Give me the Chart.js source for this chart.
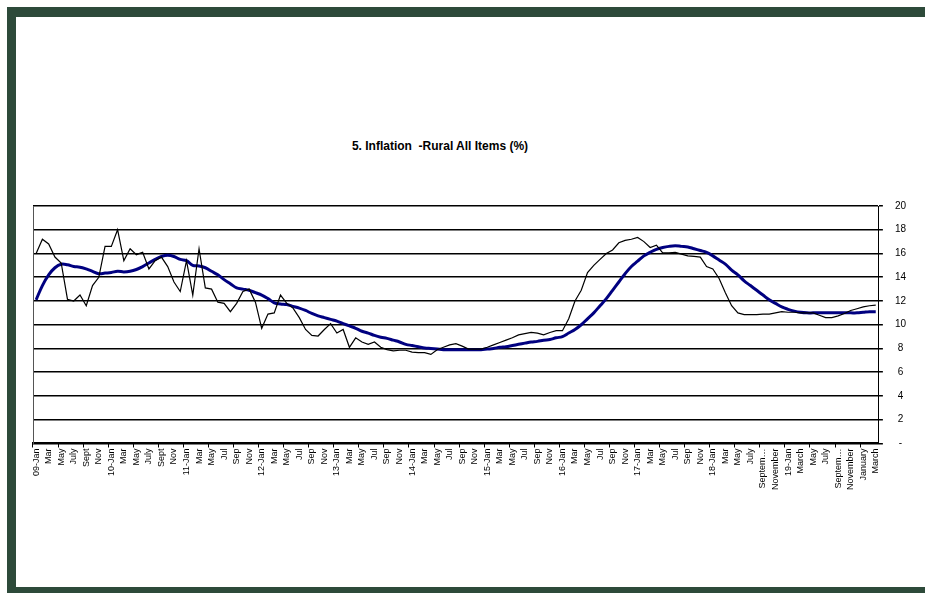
<!DOCTYPE html>
<html>
<head>
<meta charset="utf-8">
<script src="https://cdn.jsdelivr.net/npm/chart.js@4.4.0/dist/chart.umd.min.js"></script>
<style>
    body { margin: 0; background: #fff; width: 925px; height: 593px; overflow: hidden; position: relative; }
    #frame {
        position: absolute; left: 7px; top: 7px; width: 1000px; height: 570px;
        border-top: 10px solid #2d4a3a; border-left: 9px solid #2d4a3a; border-bottom: 10px solid #2d4a3a;
    }
    #titulo {
        position: absolute; left: 240px; width: 400px; top: 139px; text-align: center;
        font: bold 12px "Liberation Sans", Arial, sans-serif; color: #000; white-space: pre;
    }
    #wrap { position: absolute; left: 20px; top: 188px; width: 900px; height: 303px; }
</style>
</head>
<body>
<div id="frame"></div>
<div id="titulo">5. Inflation  -Rural All Items (%)</div>
<div id="wrap"><canvas id="lineChartInflacao"></canvas></div>
<script>
// Rótulos visíveis (um a cada dois meses, jan/2009 a mar/2020)
const tickLabels = [
    '09-Jan', 'Mar', 'May', 'July', 'Sept', 'Nov',
    '10-Jan', 'Mar', 'May', 'July', 'Sept', 'Nov',
    '11-Jan', 'Mar', 'May', 'Jul', 'Sep', 'Nov',
    '12-Jan', 'Mar', 'May', 'Jul', 'Sep', 'Nov',
    '13-Jan', 'Mar', 'May', 'Jul', 'Sep', 'Nov',
    '14-Jan', 'Mar', 'May', 'Jul', 'Sep', 'Nov',
    '15-Jan', 'Mar', 'May', 'Jul', 'Sep', 'Nov',
    '16-Jan', 'Mar', 'May', 'Jul', 'Sep', 'Nov',
    '17-Jan', 'Mar', 'May', 'Jul', 'Sep', 'Nov',
    '18-Jan', 'Mar', 'May', 'July', 'Septem…', 'November',
    '19-Jan', 'March', 'May', 'July', 'Septem…', 'November',
    'January', 'March'
];

// Inflação rural mensal (%)
const inflacaoRural = [
    16.0, 17.2, 16.8, 15.7, 15.2, 12.15, 12.0, 12.5, 11.6, 13.3, 14.0, 16.6,
    16.6, 18.0, 15.4, 16.4, 15.9, 16.1, 14.7, 15.4, 15.7, 14.9, 13.6, 12.8,
    15.4, 12.5, 16.4, 13.1, 13.0, 11.9, 11.8, 11.1, 11.8, 12.8, 13.0, 11.9,
    9.7, 10.9, 11.0, 12.5, 11.8, 11.4, 10.6, 9.6, 9.1, 9.05, 9.6, 10.1,
    9.3, 9.6, 8.1, 8.9, 8.55, 8.35, 8.55, 8.1, 7.9, 7.8, 7.85, 7.85,
    7.7, 7.65, 7.65, 7.5, 7.9, 8.1, 8.3, 8.4, 8.2, 7.95, 7.95, 7.95,
    8.1, 8.3, 8.5, 8.7, 8.9, 9.15, 9.25, 9.35, 9.3, 9.15, 9.35, 9.5,
    9.5, 10.5, 12.0, 12.9, 14.4, 15.0, 15.5, 16.0, 16.3, 16.9, 17.1, 17.2,
    17.35, 17.0, 16.5, 16.7, 16.05, 16.05, 16.1, 15.95, 15.8, 15.75, 15.7, 14.9,
    14.7, 13.9, 12.7, 11.6, 11.0, 10.85, 10.85, 10.85, 10.9, 10.9, 11.0, 11.1,
    11.05, 11.05, 11.0, 11.0, 11.0, 10.8, 10.6, 10.6, 10.75, 10.95, 11.2, 11.35,
    11.5, 11.6, 11.65
];

// Tendência (linha azul)
const tendencia = [
    12.1, 13.3, 14.2, 14.8, 15.1, 15.05, 14.9, 14.85, 14.7, 14.5, 14.3, 14.35,
    14.4, 14.5, 14.45, 14.5, 14.65, 14.9, 15.2, 15.5, 15.75, 15.85, 15.75, 15.5,
    15.4, 15.0, 14.95, 14.8, 14.5, 14.2, 13.8, 13.45, 13.1, 13.0, 12.9, 12.7,
    12.5, 12.2, 11.85, 11.75, 11.7, 11.55, 11.4, 11.2, 10.95, 10.75, 10.6, 10.45,
    10.3, 10.1, 9.9, 9.7, 9.45, 9.3, 9.1, 8.95, 8.85, 8.7, 8.55, 8.35,
    8.25, 8.15, 8.05, 8.0, 7.95, 7.9, 7.9, 7.9, 7.9, 7.9, 7.9, 7.9,
    7.95, 8.0, 8.1, 8.15, 8.25, 8.35, 8.45, 8.55, 8.6, 8.7, 8.75, 8.9,
    9.0, 9.3, 9.6, 10.0, 10.5, 11.0, 11.6, 12.2, 12.9, 13.6, 14.3, 14.9,
    15.35, 15.8, 16.1, 16.35, 16.5, 16.6, 16.65, 16.6, 16.55, 16.4, 16.25, 16.1,
    15.8, 15.45, 15.1, 14.6, 14.2, 13.7, 13.3, 12.9, 12.5, 12.1, 11.8, 11.5,
    11.3, 11.15, 11.05, 11.0, 11.0, 11.0, 11.0, 11.0, 11.0, 11.0, 11.0, 11.0,
    11.05, 11.1, 11.1
];

// Eixo Y (0 aparece como "-")
const yTicks = [0, 2, 4, 6, 8, 10, 12, 14, 16, 18, 20];

const meses = inflacaoRural.map((v, i) => (i % 2 === 0 ? tickLabels[i / 2] : ''));
const fonte = '"Liberation Sans", Arial, sans-serif';

new Chart(document.getElementById('lineChartInflacao'), {
    type: 'line',
    data: {
        labels: meses,
        datasets: [{
            label: 'Rural All Items',
            data: inflacaoRural,
            borderColor: '#000000',
            borderWidth: 1.2,
            pointRadius: 0,
            tension: 0
        }, {
            label: 'Trend',
            data: tendencia,
            borderColor: '#000080',
            borderWidth: 3,
            pointRadius: 0,
            tension: 0.4
        }]
    },
    options: {
        responsive: true,
        maintainAspectRatio: false,
        animation: false,
        layout: { padding: { left: 5, top: 5, right: 2 } },
        plugins: {
            legend: { display: false },
            tooltip: { enabled: false }
        },
        scales: {
            x: {
                offset: true,
                grid: {
                    display: true,
                    drawOnChartArea: false,
                    drawTicks: true,
                    tickLength: 4,
                    offset: true,
                    color: (ctx) => (ctx.index % 4 === 0 ? '#000' : 'rgba(0,0,0,0)')
                },
                border: { display: true, color: '#000', width: 2 },
                ticks: {
                    autoSkip: false,
                    maxRotation: 90,
                    minRotation: 90,
                    padding: 1,
                    color: '#000',
                    font: { family: fonte, size: 9 }
                }
            },
            y: {
                position: 'right',
                min: 0,
                max: 20,
                afterBuildTicks: (axis) => { axis.ticks = yTicks.map(v => ({ value: v })); },
                grid: {
                    color: '#000',
                    lineWidth: 1.5,
                    tickLength: 4,
                    drawTicks: true
                },
                border: { display: true, color: '#000', width: 1 },
                ticks: {
                    crossAlign: 'center',
                    padding: 12,
                    color: '#000',
                    font: { family: fonte, size: 10 },
                    callback: (value) => (value === 0 ? '-' : value)
                }
            },
            yLeft: {
                position: 'left',
                min: 0,
                max: 20,
                grid: { display: false },
                border: { display: true, color: '#555', width: 1 },
                ticks: { display: false }
            }
        }
    }
});
</script>
</body>
</html>
